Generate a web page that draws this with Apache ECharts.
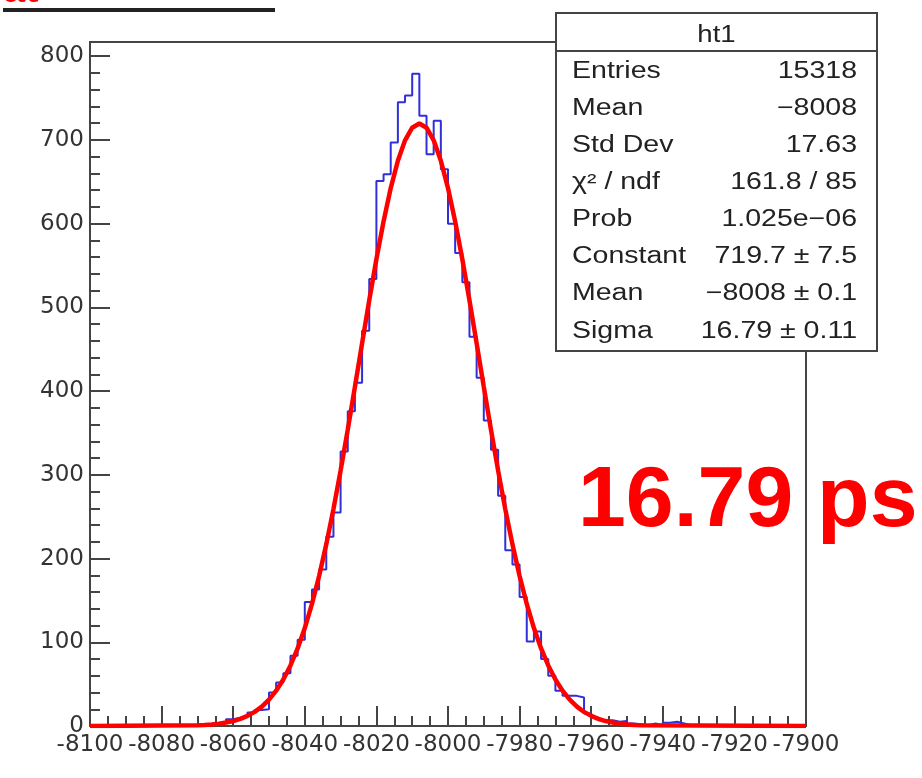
<!DOCTYPE html>
<html>
<head>
<meta charset="utf-8">
<title>ht1</title>
<script src="https://cdn.jsdelivr.net/npm/echarts@6.0.0/dist/echarts.min.js"></script>
<style>
html, body { margin:0; padding:0; background:#fff; }
#main { width:922px; height:778px; }
</style>
</head>
<body>
<div id="main"></div>
<script>
// ht1 : 100 bins of 2 ps between -8100 and -7900
var binLow = -8100;
var binWidth = 2;
var counts = [
    0, 0, 0, 0, 0, 0, 0, 0, 0, 0,
    0, 0, 0, 0, 1, 1, 2, 3, 5, 8,
    10, 11, 16, 19, 20, 40, 52, 63, 84, 103,
    148, 163, 187, 226, 255, 328, 376, 410, 472, 534,
    651, 659, 697, 745, 753, 779, 729, 683, 723, 665,
    600, 565, 530, 465, 416, 365, 330, 275, 210, 193,
    154, 101, 113, 80, 60, 42, 36, 36, 34, 15,
    10, 7, 7, 5, 6, 3, 2, 1, 3, 1,
    4, 5, 3, 1, 1, 0, 0, 0, 0, 0,
    0, 0, 0, 0, 0, 0, 0, 0, 0, 0
];

var fitStart = -8070;
var fitStep = 2;
var fitY = [
    0.8, 1.2, 1.8, 2.8, 4.1, 5.9, 8.5, 12.1, 16.9, 23.2, 31.5, 42.2, 55.6, 72.3, 92.6, 117.0,
    145.8, 179.2, 217.0, 259.1, 305.0, 354.0, 405.1, 457.1, 508.4, 557.5, 602.7, 642.5, 675.2, 699.6, 714.6, 719.7,
    714.6, 699.6, 675.2, 642.5, 602.7, 557.5, 508.4, 457.1, 405.1, 354.0, 305.0, 259.1, 217.0, 179.2, 145.8,
    117.0, 92.6, 72.3, 55.6, 42.2, 31.5, 23.2, 16.9, 12.1, 8.5, 5.9, 4.1, 2.8, 1.8, 1.2, 0.8
];

var xRange = [-8100, -7900];
var yRange = [0, 817];

var statTitle = 'ht1';
var statNames = ['Entries', 'Mean', 'Std Dev', 'χ² / ndf', 'Prob', 'Constant', 'Mean', 'Sigma'];
var statValues = ['15318', '−8008', '17.63', '161.8 / 85', '1.025e−06', '719.7 ± 7.5', '−8008 ± 0.1', '16.79 ± 0.11'];
var resultText = '16.79 ps';

var chart = echarts.init(document.getElementById('main'), null, {renderer: 'canvas'});

// step line for the histogram: one point per bin low edge, + last edge
var histData = [];
for (var i = 0; i < counts.length; i++) {
    histData.push([binLow + i * binWidth, counts[i]]);
}
histData.push([binLow + counts.length * binWidth, counts[counts.length - 1]]);

var fitData = [[xRange[0], 0]];
for (var j = 0; j < fitY.length; j++) {
    fitData.push([fitStart + j * fitStep, fitY[j]]);
}
fitData.push([xRange[1], 0]);

var axisCol = '#444';
var labelFont = 'DejaVu Sans';

// stats box (ROOT TPaveStats look)
var box = {x: 556, y: 13, w: 321, h: 338};
var statEls = [
    {type: 'rect', shape: {x: box.x, y: box.y, width: box.w, height: box.h},
     style: {fill: '#fff', stroke: axisCol, lineWidth: 2}},
    {type: 'line', shape: {x1: box.x, y1: 51, x2: box.x + box.w, y2: 51},
     style: {stroke: axisCol, lineWidth: 2}},
    {type: 'text', x: box.x + box.w / 2, y: 36, scaleX: 1.2,
     style: {text: statTitle, fontFamily: 'Liberation Sans', fontSize: 23, fill: '#222', align: 'center', verticalAlign: 'middle'}}
];
for (var k = 0; k < statNames.length; k++) {
    var ry = 71.5 + k * 37.1;
    statEls.push({type: 'text', x: 572, y: ry, scaleX: 1.24,
        style: {text: statNames[k], fontFamily: 'Liberation Sans', fontSize: 23, fill: '#222', align: 'left', verticalAlign: 'middle'}});
    statEls.push({type: 'text', x: 857, y: ry, scaleX: 1.24,
        style: {text: statValues[k], fontFamily: 'Liberation Sans', fontSize: 23, fill: '#222', align: 'right', verticalAlign: 'middle'}});
}

var option = {
    animation: false,
    backgroundColor: '#fff',
    grid: {left: 90, top: 42, width: 716, height: 684, show: true,
           borderColor: axisCol, borderWidth: 2, backgroundColor: 'transparent'},
    xAxis: {
        type: 'value', min: xRange[0], max: xRange[1], interval: 20,
        axisLine: {show: true, onZero: false, lineStyle: {color: axisCol, width: 2}},
        axisTick: {show: true, inside: true, length: 20, lineStyle: {color: axisCol, width: 2}},
        minorTick: {show: true, splitNumber: 4, length: 10, lineStyle: {color: axisCol, width: 2}},
        splitLine: {show: false},
        axisLabel: {fontFamily: labelFont, fontSize: 23, color: '#333', margin: 8,
            formatter: function (v) { return String(v); }}
    },
    yAxis: [{
        type: 'value', min: yRange[0], max: yRange[1], interval: 100,
        axisLine: {show: true, lineStyle: {color: axisCol, width: 2}},
        axisTick: {show: true, inside: true, length: 20, lineStyle: {color: axisCol, width: 2}},
        splitLine: {show: false},
        axisLabel: {fontFamily: labelFont, fontSize: 23, color: '#333', margin: 6,
            formatter: function (v) { return v % 100 === 0 ? String(v) : ''; }}
    }, {
        // minor ticks every 20
        type: 'value', position: 'left', min: yRange[0], max: yRange[1], interval: 20,
        axisLine: {show: false},
        axisTick: {show: true, inside: true, length: 10, lineStyle: {color: axisCol, width: 2}},
        splitLine: {show: false},
        axisLabel: {show: false}
    }],
    series: [{
        type: 'line', name: 'ht1', data: histData, step: 'end', symbol: 'none',
        lineStyle: {color: '#3030d8', width: 2}, z: 2
    }, {
        type: 'line', name: 'gaus', data: fitData, symbol: 'none', smooth: false,
        lineStyle: {color: '#ff0000', width: 4.5}, z: 3
    }],
    graphic: [
        {type: 'group', z: 100, silent: true, children: statEls},
        {type: 'text', x: 578, y: 502, z: 100, silent: true,
         style: {text: resultText, fontFamily: 'Liberation Sans', fontWeight: 'bold', fontSize: 86,
                 fill: '#ff0000', align: 'left', verticalAlign: 'middle'}},
        // slide title cut off at the top
        {type: 'text', x: 3, y: -9, z: 100, silent: true,
         style: {text: 'at', fontFamily: 'Liberation Sans', fontWeight: 'bold', fontSize: 40,
                 fill: '#ff0000', align: 'left', verticalAlign: 'middle'}},
        {type: 'line', z: 100, silent: true, shape: {x1: 3, y1: 10, x2: 275, y2: 10},
         style: {stroke: '#222', lineWidth: 4}}
    ]
};

chart.setOption(option);
</script>
</body>
</html>
